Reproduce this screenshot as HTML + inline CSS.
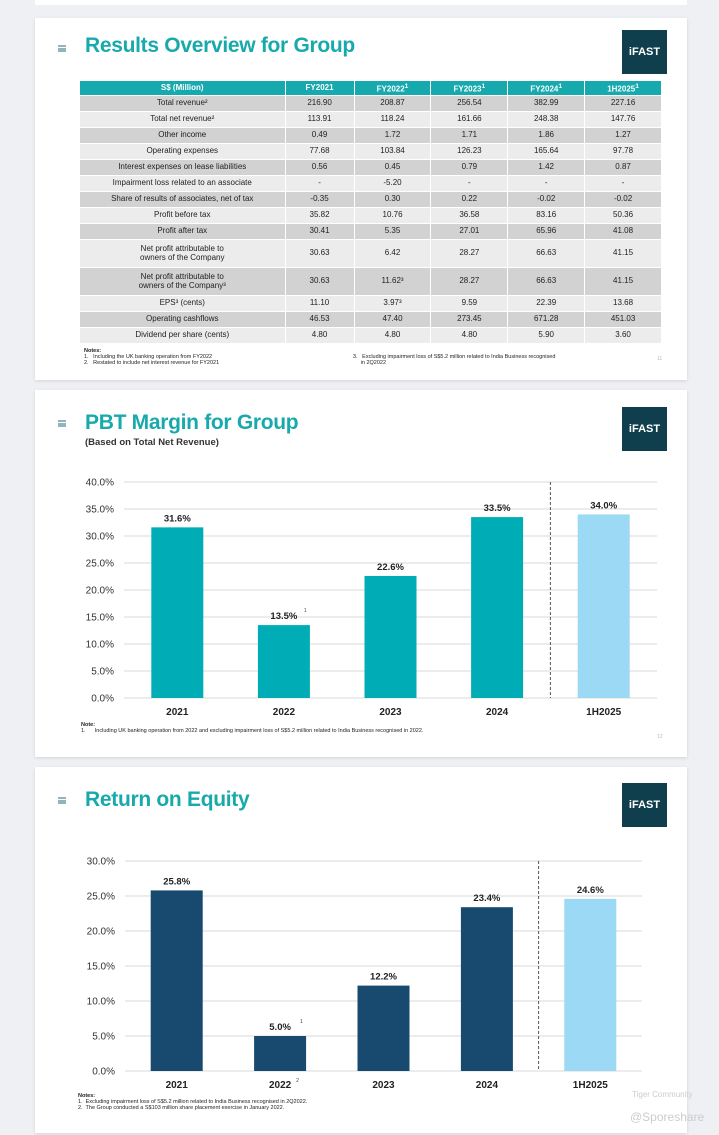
<!DOCTYPE html>
<html><head><meta charset="utf-8">
<style>
*{margin:0;padding:0;box-sizing:border-box}
body{width:719px;height:1135px;background:#eef0f3;position:relative;overflow:hidden;font-family:"Liberation Sans",Arial,sans-serif}
.card{position:absolute;left:35px;width:652px;background:#fff;box-shadow:0 1px 3px rgba(0,0,0,.12)}
.title{position:absolute;left:50px;font-size:21px;font-weight:bold;color:#18a9ad;letter-spacing:-0.3px}
.bul{position:absolute;left:23px;width:8px;height:7px;border-top:2px solid #8fb5bf;border-bottom:2px solid #8fb5bf}
.bul:after{content:"";position:absolute;left:0;top:1px;width:8px;height:2px;background:#8fb5bf}
.logo{position:absolute;left:587px;width:45px;height:44px;background:#0f3f4c;color:#fff;font-size:11px;font-weight:bold;text-align:center;line-height:44px}
table{position:absolute;left:45px;top:63px;width:582px;border-collapse:collapse;font-size:8px;color:#222}
td,th{text-align:center;border-right:1px solid #fff;border-bottom:1px solid #fff;height:16px;padding:0 2px;line-height:9.5px}
th{background:#16a9ae;color:#fff;font-weight:bold;height:14px}
tr.g td{background:#d2d2d2}
tr.l td{background:#ececec}
tr.t td{height:28px}
.note{position:absolute;font-size:5.5px;color:#222;line-height:6px}
.pg{position:absolute;font-size:5px;color:#bbb}
</style></head><body>
<div style="position:absolute;left:35px;top:0;width:652px;height:5px;background:#fff"></div>

<div class="card" style="top:18px;height:362px">
<div class="bul" style="top:27px"></div>
<div class="title" style="top:16px">Results Overview for Group</div>
<div class="logo" style="top:12px">iFAST</div>
<table>
<tr><th style="width:205px">S$ (Million)</th><th>FY2021</th><th>FY2022<sup>1</sup></th><th>FY2023<sup>1</sup></th><th>FY2024<sup>1</sup></th><th>1H2025<sup>1</sup></th></tr>
<tr class="g"><td>Total revenue²</td><td>216.90</td><td>208.87</td><td>256.54</td><td>382.99</td><td>227.16</td></tr>
<tr class="l"><td>Total net revenue²</td><td>113.91</td><td>118.24</td><td>161.66</td><td>248.38</td><td>147.76</td></tr>
<tr class="g"><td>Other income</td><td>0.49</td><td>1.72</td><td>1.71</td><td>1.86</td><td>1.27</td></tr>
<tr class="l"><td>Operating expenses</td><td>77.68</td><td>103.84</td><td>126.23</td><td>165.64</td><td>97.78</td></tr>
<tr class="g"><td>Interest expenses on lease liabilities</td><td>0.56</td><td>0.45</td><td>0.79</td><td>1.42</td><td>0.87</td></tr>
<tr class="l"><td>Impairment loss related to an associate</td><td>-</td><td>-5.20</td><td>-</td><td>-</td><td>-</td></tr>
<tr class="g"><td>Share of results of associates, net of tax</td><td>-0.35</td><td>0.30</td><td>0.22</td><td>-0.02</td><td>-0.02</td></tr>
<tr class="l"><td>Profit before tax</td><td>35.82</td><td>10.76</td><td>36.58</td><td>83.16</td><td>50.36</td></tr>
<tr class="g"><td>Profit after tax</td><td>30.41</td><td>5.35</td><td>27.01</td><td>65.96</td><td>41.08</td></tr>
<tr class="l t"><td>Net profit attributable to<br>owners of the Company</td><td>30.63</td><td>6.42</td><td>28.27</td><td>66.63</td><td>41.15</td></tr>
<tr class="g t"><td>Net profit attributable to<br>owners of the Company³</td><td>30.63</td><td>11.62³</td><td>28.27</td><td>66.63</td><td>41.15</td></tr>
<tr class="l"><td>EPS³ (cents)</td><td>11.10</td><td>3.97³</td><td>9.59</td><td>22.39</td><td>13.68</td></tr>
<tr class="g"><td>Operating cashflows</td><td>46.53</td><td>47.40</td><td>273.45</td><td>671.28</td><td>451.03</td></tr>
<tr class="l"><td>Dividend per share (cents)</td><td>4.80</td><td>4.80</td><td>4.80</td><td>5.90</td><td>3.60</td></tr>
</table>
<div class="note" style="left:49px;top:330px"><b>Notes:</b><br>1.&nbsp;&nbsp; Including the UK banking operation from FY2022<br>2.&nbsp;&nbsp; Restated to include net interest revenue for FY2021</div>
<div class="note" style="left:318px;top:336px">3.&nbsp;&nbsp; Excluding impairment loss of S$5.2 million related to India Business recognised<br>&nbsp;&nbsp;&nbsp;&nbsp; in 2Q2022</div>
<div class="pg" style="left:622px;top:338px">11</div>
</div>

<div class="card" style="top:390px;height:367px">
<div class="bul" style="top:30px"></div>
<div class="title" style="top:21px">PBT Margin for Group</div>
<div style="position:absolute;left:50px;top:47px;font-size:9.5px;font-weight:bold;color:#333">(Based on Total Net Revenue)</div>
<div class="logo" style="top:17px">iFAST</div>
<div class="note" style="left:46px;top:332px"><b>Note:</b><br>1.&nbsp;&nbsp;&nbsp;&nbsp;&nbsp; Including UK banking operation from 2022 and excluding impairment loss of S$5.2 million related to India Business recognised in 2022.</div>
<div class="pg" style="left:622px;top:344px">12</div>
</div>

<div class="card" style="top:767px;height:366px">
<div class="bul" style="top:30px"></div>
<div class="title" style="top:21px">Return on Equity</div>
<div class="logo" style="top:16px">iFAST</div>
<div class="note" style="left:43px;top:326px"><b>Notes:</b><br>1.&nbsp; Excluding impairment loss of S$5.2 million related to India Business recognised in 2Q2022.<br>2.&nbsp; The Group conducted a S$103 million share placement exercise in January 2022.</div>
</div>
<div style="position:absolute;left:632px;top:1090px;font-size:8px;color:#ccc">Tiger Community</div>
<div style="position:absolute;left:630px;top:1110px;font-size:12px;color:#ccc">@Sporeshare</div>

<svg id="ov" width="719" height="1135" style="position:absolute;left:0;top:0"></svg>

<script>
const pbtCats=["2021","2022","2023","2024","1H2025"];
const pbtVals=[31.6,13.5,22.6,33.5,34.0];
const pbtTicks=[0,5,10,15,20,25,30,35,40];
const roeCats=["2021","2022","2023","2024","1H2025"];
const roeVals=[25.8,5.0,12.2,23.4,24.6];
const roeTicks=[0,5,10,15,20,25,30];

const NS="http://www.w3.org/2000/svg";
const svg=document.getElementById('ov');
function mk(t,a,txt){const e=document.createElementNS(NS,t);for(const k in a)e.setAttribute(k,a[k]);if(txt!==undefined)e.textContent=txt;svg.appendChild(e);return e;}

function chart(o){
  const y=v=>o.y0-(v/o.max)*(o.y0-o.yTop);
  const step=(o.x1-o.x0)/o.cats.length;
  const x=i=>o.x0+step*(i+0.5);
  o.ticks.forEach(t=>{
    const l=mk('line',{x1:o.x0,x2:o.x1,y1:y(t),y2:y(t),stroke:'#d9d9d9','stroke-width':1});
    
    
    const tx=mk('text',{x:o.x0-10,y:y(t)+3.5,'text-anchor':'end','font-size':10,fill:'#333','font-family':'Liberation Sans'},t.toFixed(1)+'%');
    
    
  });
  const dx=o.x0+step*(o.cats.length-1);
  const d=mk('line',{x1:dx,x2:dx,y1:y(o.max),y2:o.y0,stroke:'#555','stroke-width':1,'stroke-dasharray':'3,2'});
  
  
  o.vals.forEach((v,i)=>{
    const last=i===o.vals.length-1;
    const r=mk('rect',{x:x(i)-o.bw/2,y:y(v),width:o.bw,height:o.y0-y(v),fill:last?'#9bd9f4':o.color});
    
    
    const lb=mk('text',{x:x(i),y:y(v)-6,'text-anchor':'middle','font-size':9.5,'font-weight':'bold',fill:'#222','font-family':'Liberation Sans'},v.toFixed(1)+'%');
    
    
    const cl=mk('text',{x:x(i),y:o.y0+17,'text-anchor':'middle','font-size':10,'font-weight':'bold',fill:'#222','font-family':'Liberation Sans'},o.cats[i]);
    
    
    if(o.sup[i]){
      const s=mk('text',{x:x(i)+20,y:y(v)-13,'font-size':5,fill:'#444','font-family':'Liberation Sans'},o.sup[i]);
      
      
    }
    if(o.catSup&&o.catSup[i]){
      const s=mk('text',{x:x(i)+16,y:o.y0+11,'font-size':5,fill:'#444','font-family':'Liberation Sans'},o.catSup[i]);
      
      
    }
  });
}
chart({cats:pbtCats,vals:pbtVals,ticks:pbtTicks,max:40,x0:124,x1:657,y0:698,yTop:482,bw:52,color:'#00adb6',sup:[0,"1",0,0,0]});
chart({cats:roeCats,vals:roeVals,ticks:roeTicks,max:30,x0:125,x1:642,y0:1071,yTop:861,bw:52,color:'#174a6e',sup:[0,"1",0,0,0],catSup:[0,"2",0,0,0]});
</script>
</body></html>
